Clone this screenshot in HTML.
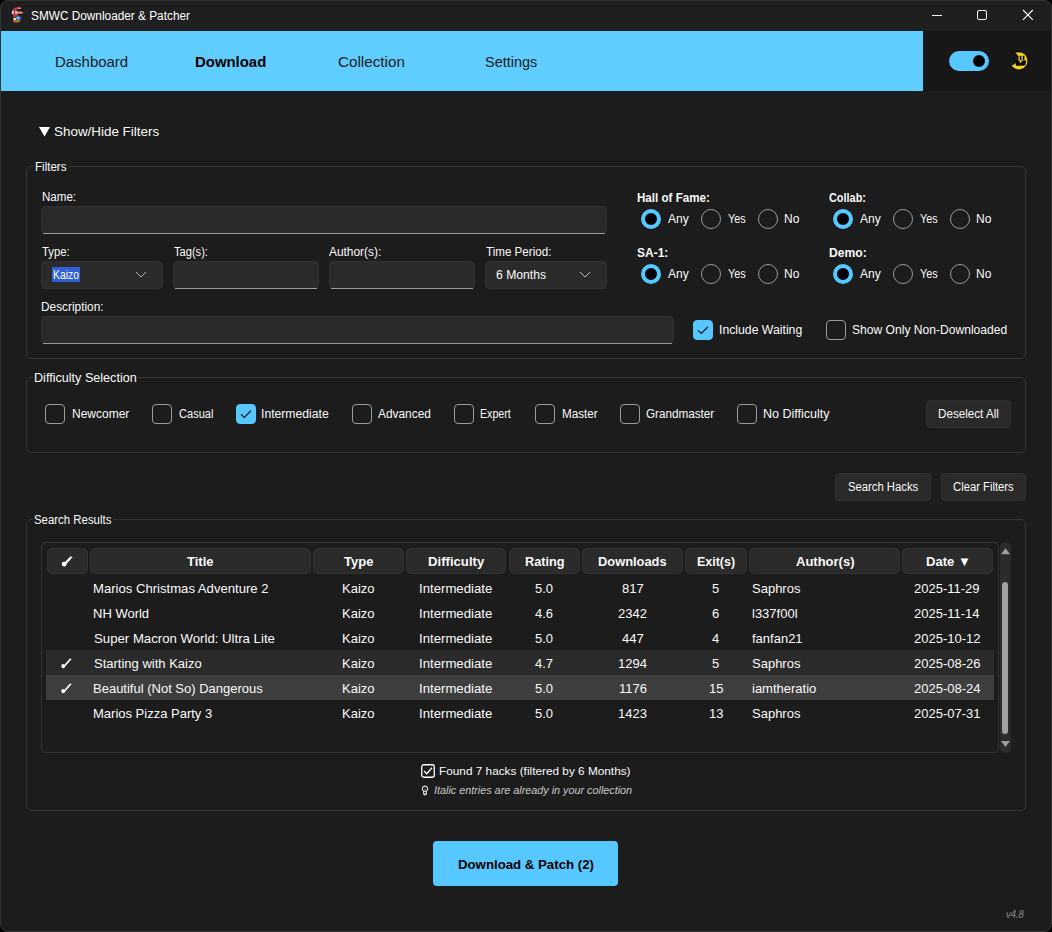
<!DOCTYPE html>
<html><head><meta charset="utf-8"><title>SMWC Downloader &amp; Patcher</title>
<style>*{box-sizing:border-box;margin:0;padding:0}
html,body{width:1052px;height:932px;overflow:hidden;background:#000}
body{font-family:"Liberation Sans",sans-serif;color:#fafafa;position:relative}
.win{position:absolute;left:0;top:0;width:1052px;height:932px;background:#1c1c1c;border-radius:8px;overflow:hidden}
.frame{position:absolute;left:0;top:0;width:1052px;height:932px;border:1px solid #333;border-radius:8px;pointer-events:none}
.t{position:absolute;white-space:nowrap;line-height:1}
.b{font-weight:bold}
.r{position:absolute}
.title{left:0;top:0;width:1052px;height:30px;background:#1f1f1f}
.nav{left:1px;top:31px;width:922px;height:60px;background:#60cdff}
.navr{left:924px;top:31px;width:127px;height:60px;background:#171717}
.lf{position:absolute;border:1px solid #363636;border-radius:5px}
.lfg{position:absolute;height:3px;background:#1c1c1c}
.ent{position:absolute;background:#2b2b2b;border:1px solid #303030;border-radius:4px}
.ent::after{content:"";position:absolute;left:1px;right:1px;bottom:-1px;height:1px;background:#9a9a9a}
.cmb{position:absolute;background:#2b2b2b;border:1px solid #303030;border-radius:4px}
.rad{position:absolute;width:20px;height:20px;border-radius:50%;border:1px solid #9b9b9b}
.rad.on{border:4px solid #57c8ff;background:#000}
.cb{position:absolute;width:20px;height:20px;border-radius:4px;border:1px solid #9b9b9b;background:transparent}
.cb.on{background:#57c8ff;border-color:#57c8ff}
.btn{position:absolute;background:#2a2a2a;border:1px solid #303030;border-radius:4px}
.hd{position:absolute;top:548px;height:26px;background:#2b2b2b;border:1px solid #323232;border-radius:5px}
</style></head><body>
<div class="win">
<div class="r title"></div>
<svg class="r" style="left:6px;top:3px" width="24" height="24" viewBox="0 0 24 24">
<path d="M5.6 9.4 Q6.2 4.6 12.6 4 L14.8 4.4 L14.6 6.2 L11 6.6 Q8 7.2 7.2 9.6 Z" fill="#d3306c"/>
<rect x="12.5" y="4.6" width="2.2" height="1.4" fill="#f0a060"/>
<rect x="10.8" y="6.8" width="6.2" height="1.5" fill="#0a0a0a"/>
<rect x="5.8" y="7.8" width="6" height="3.6" rx="1" fill="#e8b0a0"/>
<rect x="8" y="8.2" width="0.8" height="2.8" fill="#402020"/>
<rect x="11.8" y="8.4" width="4.9" height="2.4" rx="0.8" fill="#f08878"/>
<rect x="7" y="11.3" width="5" height="3.1" fill="#b83040"/>
<circle cx="12.6" cy="15.4" r="2.7" fill="#2a5cc0"/>
<circle cx="12" cy="15" r="1.3" fill="#80e0e0"/>
<rect x="7.5" y="15" width="2.5" height="2.8" fill="#f0f0f0"/>
<ellipse cx="10.6" cy="18.1" rx="3.6" ry="1.5" fill="#b07020"/>
</svg>
<div class="t" style="top:10.14px;font-size:12px;left:31px;transform:scaleX(0.985);transform-origin:0 0;color:#fff">SMWC Downloader &amp; Patcher</div>
<div class="r" style="left:932px;top:15px;width:10px;height:1px;background:#fff"></div>
<div class="r" style="left:977px;top:10px;width:10px;height:10px;border:1px solid #fff;border-radius:2px"></div>
<svg class="r" style="left:1022px;top:9px" width="12" height="12" viewBox="0 0 12 12"><path d="M1 1 L10.8 10.8 M10.8 1 L1 10.8" stroke="#fff" stroke-width="1.1"/></svg>
<div class="r nav"></div>
<div class="r navr"></div>
<div class="t" style="top:54.08px;font-size:15.5px;left:55px;transform:scaleX(0.965);transform-origin:0 0;color:#1a1a1a">Dashboard</div>
<div class="t b" style="top:54.08px;font-size:15.5px;left:195px;transform:scaleX(0.962);transform-origin:0 0;color:#000">Download</div>
<div class="t" style="top:54.08px;font-size:15.5px;left:338px;transform:scaleX(0.983);transform-origin:0 0;color:#1a1a1a">Collection</div>
<div class="t" style="top:54.08px;font-size:15.5px;left:485px;transform:scaleX(0.933);transform-origin:0 0;color:#1a1a1a">Settings</div>
<div class="r" style="left:949px;top:51px;width:40px;height:20px;border-radius:10px;background:#57c8ff"></div>
<div class="r" style="left:973px;top:55px;width:12px;height:12px;border-radius:6px;background:#000"></div>
<svg class="r" style="left:1006px;top:48px" width="28" height="26" viewBox="0 0 28 26">
<path d="M8.6 4 L15.4 4 Q21.6 6.6 22 13 Q21.6 19.8 14 22 Q8.4 22.2 5 17.4 L8.6 15.6 L11.8 12.6 L12.2 8.6 Z" fill="#f4d21c" stroke="#000" stroke-width="0.9" stroke-linejoin="round"/>
<rect x="13.8" y="7.8" width="1.6" height="4.2" fill="#000"/>
<rect x="16.8" y="7.8" width="1.6" height="4.2" fill="#000"/>
<path d="M9.4 12.6 L13.6 12.6 L13.6 14.8 L15.6 14.8 L15.6 12.6 L20.2 12.4 L19.2 17.4 L10 17.8 Z" fill="#000"/>
</svg>
<svg class="r" style="left:39px;top:127px" width="11" height="10" viewBox="0 0 11 10"><path d="M0 0 H11 L5.5 9.5 Z" fill="#fff"/></svg>
<div class="t" style="top:125.27px;font-size:13.5px;left:54px;transform:scaleX(0.994);transform-origin:0 0;">Show/Hide Filters</div>
<div class="lf" style="left:26px;top:166px;width:1000px;height:193px"></div>
<div class="lfg" style="left:33px;top:165px;width:35px"></div>
<div class="t" style="top:160.64px;font-size:12px;left:35px;transform:scaleX(0.964);transform-origin:0 0;">Filters</div>
<div class="t" style="top:190.64px;font-size:12px;left:42px;transform:scaleX(0.963);transform-origin:0 0;">Name:</div>
<div class="ent" style="left:41px;top:206px;width:566px;height:28px"></div>
<div class="t" style="top:245.84px;font-size:12px;left:42px;transform:scaleX(0.941);transform-origin:0 0;">Type:</div>
<div class="t" style="top:245.84px;font-size:12px;left:174px;transform:scaleX(0.925);transform-origin:0 0;">Tag(s):</div>
<div class="t" style="top:245.84px;font-size:12px;left:329px;transform:scaleX(0.991);transform-origin:0 0;">Author(s):</div>
<div class="t" style="top:245.84px;font-size:12px;left:486px;transform:scaleX(0.968);transform-origin:0 0;">Time Period:</div>
<div class="cmb" style="left:41px;top:261px;width:122px;height:28px"></div>
<div class="r" style="left:52px;top:267px;width:28px;height:15px;background:#2f60d8"></div>
<div class="t" style="top:268.84px;font-size:12px;left:53px;transform:scaleX(0.863);transform-origin:0 0;color:#fff">Kaizo</div>
<svg class="r" style="left:135px;top:271px" width="12" height="7" viewBox="0 0 12 7"><path d="M1 1 L6 6 L11 1" stroke="#b8b8b8" stroke-width="1" fill="none"/></svg>
<div class="ent" style="left:173px;top:261px;width:146px;height:28px"></div>
<div class="ent" style="left:329px;top:261px;width:146px;height:28px"></div>
<div class="cmb" style="left:485px;top:261px;width:122px;height:28px"></div>
<div class="t" style="top:268.84px;font-size:12px;left:496px;transform:scaleX(1.013);transform-origin:0 0;">6 Months</div>
<svg class="r" style="left:579px;top:271px" width="12" height="7" viewBox="0 0 12 7"><path d="M1 1 L6 6 L11 1" stroke="#b8b8b8" stroke-width="1" fill="none"/></svg>
<div class="t b" style="top:191.84px;font-size:12px;left:637px;transform:scaleX(0.966);transform-origin:0 0;">Hall of Fame:</div>
<div class="rad on" style="left:641px;top:209px"></div>
<div class="t" style="top:212.64px;font-size:12px;left:668px;">Any</div>
<div class="rad" style="left:701px;top:209px"></div>
<div class="t" style="top:212.64px;font-size:12px;left:728px;transform:scaleX(0.909);transform-origin:0 0;">Yes</div>
<div class="rad" style="left:758px;top:209px"></div>
<div class="t" style="top:212.64px;font-size:12px;left:784px;">No</div>
<div class="t b" style="top:191.84px;font-size:12px;left:829px;transform:scaleX(0.908);transform-origin:0 0;">Collab:</div>
<div class="rad on" style="left:833px;top:209px"></div>
<div class="t" style="top:212.64px;font-size:12px;left:860px;">Any</div>
<div class="rad" style="left:893px;top:209px"></div>
<div class="t" style="top:212.64px;font-size:12px;left:920px;transform:scaleX(0.909);transform-origin:0 0;">Yes</div>
<div class="rad" style="left:950px;top:209px"></div>
<div class="t" style="top:212.64px;font-size:12px;left:976px;">No</div>
<div class="t b" style="top:246.84px;font-size:12px;left:637px;">SA-1:</div>
<div class="rad on" style="left:641px;top:264px"></div>
<div class="t" style="top:267.64px;font-size:12px;left:668px;">Any</div>
<div class="rad" style="left:701px;top:264px"></div>
<div class="t" style="top:267.64px;font-size:12px;left:728px;transform:scaleX(0.909);transform-origin:0 0;">Yes</div>
<div class="rad" style="left:758px;top:264px"></div>
<div class="t" style="top:267.64px;font-size:12px;left:784px;">No</div>
<div class="t b" style="top:246.84px;font-size:12px;left:829px;transform:scaleX(1.010);transform-origin:0 0;">Demo:</div>
<div class="rad on" style="left:833px;top:264px"></div>
<div class="t" style="top:267.64px;font-size:12px;left:860px;">Any</div>
<div class="rad" style="left:893px;top:264px"></div>
<div class="t" style="top:267.64px;font-size:12px;left:920px;transform:scaleX(0.909);transform-origin:0 0;">Yes</div>
<div class="rad" style="left:950px;top:264px"></div>
<div class="t" style="top:267.64px;font-size:12px;left:976px;">No</div>
<div class="t" style="top:300.54px;font-size:12px;left:41px;transform:scaleX(0.987);transform-origin:0 0;">Description:</div>
<div class="ent" style="left:41px;top:316px;width:633px;height:28px"></div>
<div class="cb on" style="left:693px;top:320px"></div>
<svg class="r" style="left:693px;top:320px" width="20" height="20" viewBox="0 0 20 20"><path d="M5 10.2 L8.4 13.4 L15 6.8" stroke="#1c1c1c" stroke-width="1.3" fill="none"/></svg>
<div class="t" style="top:323.84px;font-size:12px;left:719px;transform:scaleX(1.020);transform-origin:0 0;">Include Waiting</div>
<div class="cb" style="left:826px;top:320px"></div>
<div class="t" style="top:323.84px;font-size:12px;left:852px;transform:scaleX(1.007);transform-origin:0 0;">Show Only Non-Downloaded</div>
<div class="lf" style="left:26px;top:377px;width:1000px;height:76px"></div>
<div class="lfg" style="left:33px;top:376px;width:105px"></div>
<div class="t" style="top:372.34px;font-size:12px;left:34px;transform:scaleX(1.050);transform-origin:0 0;">Difficulty Selection</div>
<div class="cb" style="left:45px;top:404px"></div>
<div class="t" style="top:407.94px;font-size:12px;left:72px;">Newcomer</div>
<div class="cb" style="left:152px;top:404px"></div>
<div class="t" style="top:407.94px;font-size:12px;left:179px;transform:scaleX(0.921);transform-origin:0 0;">Casual</div>
<div class="cb on" style="left:236px;top:404px"></div>
<svg class="r" style="left:236px;top:404px" width="20" height="20" viewBox="0 0 20 20"><path d="M5 10.2 L8.4 13.4 L15 6.8" stroke="#1c1c1c" stroke-width="1.3" fill="none"/></svg>
<div class="t" style="top:407.94px;font-size:12px;left:261px;transform:scaleX(1.015);transform-origin:0 0;">Intermediate</div>
<div class="cb" style="left:352px;top:404px"></div>
<div class="t" style="top:407.94px;font-size:12px;left:378px;transform:scaleX(0.991);transform-origin:0 0;">Advanced</div>
<div class="cb" style="left:454px;top:404px"></div>
<div class="t" style="top:407.94px;font-size:12px;left:480px;transform:scaleX(0.885);transform-origin:0 0;">Expert</div>
<div class="cb" style="left:535px;top:404px"></div>
<div class="t" style="top:407.94px;font-size:12px;left:562px;transform:scaleX(0.971);transform-origin:0 0;">Master</div>
<div class="cb" style="left:620px;top:404px"></div>
<div class="t" style="top:407.94px;font-size:12px;left:646px;transform:scaleX(0.974);transform-origin:0 0;">Grandmaster</div>
<div class="cb" style="left:737px;top:404px"></div>
<div class="t" style="top:407.94px;font-size:12px;left:763px;transform:scaleX(1.044);transform-origin:0 0;">No Difficulty</div>
<div class="btn" style="left:926px;top:400px;width:85px;height:28px"></div>
<div class="t" style="top:407.84px;font-size:12px;left:938px;transform:scaleX(0.970);transform-origin:0 0;">Deselect All</div>
<div class="btn" style="left:835px;top:473px;width:96px;height:28px"></div>
<div class="t" style="top:480.84px;font-size:12px;left:848px;transform:scaleX(0.940);transform-origin:0 0;">Search Hacks</div>
<div class="btn" style="left:941px;top:473px;width:85px;height:28px"></div>
<div class="t" style="top:480.84px;font-size:12px;left:953px;transform:scaleX(0.939);transform-origin:0 0;">Clear Filters</div>
<div class="lf" style="left:26px;top:519px;width:1000px;height:292px"></div>
<div class="lfg" style="left:33px;top:518px;width:80px"></div>
<div class="t" style="top:513.84px;font-size:12px;left:34px;transform:scaleX(0.951);transform-origin:0 0;">Search Results</div>
<div class="lf" style="left:41px;top:542px;width:958px;height:211px;border-color:#333"></div>
<div class="hd" style="left:47px;width:41px"></div>
<div class="hd" style="left:90px;width:221px"></div>
<div class="t b" style="top:554.80px;font-size:13px;left:187px;">Title</div>
<div class="hd" style="left:313px;width:91px"></div>
<div class="t b" style="top:554.80px;font-size:13px;left:344px;">Type</div>
<div class="hd" style="left:406px;width:100px"></div>
<div class="t b" style="top:554.80px;font-size:13px;left:428px;transform:scaleX(1.011);transform-origin:0 0;">Difficulty</div>
<div class="hd" style="left:509px;width:71px"></div>
<div class="t b" style="top:554.80px;font-size:13px;left:525px;transform:scaleX(0.978);transform-origin:0 0;">Rating</div>
<div class="hd" style="left:582px;width:101px"></div>
<div class="t b" style="top:554.80px;font-size:13px;left:598px;transform:scaleX(0.990);transform-origin:0 0;">Downloads</div>
<div class="hd" style="left:685px;width:62px"></div>
<div class="t b" style="top:554.80px;font-size:13px;left:697px;transform:scaleX(0.959);transform-origin:0 0;">Exit(s)</div>
<div class="hd" style="left:749px;width:151px"></div>
<div class="t b" style="top:554.80px;font-size:13px;left:796px;">Author(s)</div>
<div class="hd" style="left:902px;width:91px"></div>
<div class="t b" style="top:554.80px;font-size:13px;left:926px;transform:scaleX(1.005);transform-origin:0 0;">Date ▼</div>
<svg class="r" style="left:61px;top:556px" width="12" height="11" viewBox="0 0 12 11"><rect x="0.9" y="5.8" width="4.6" height="4.6" rx="1.8" fill="#fff"/><path d="M3.8 8 L9.4 2" stroke="#fff" stroke-width="2.5" fill="none"/><path d="M9 1.5 L11.2 1.2" stroke="#fff" stroke-width="1.5" fill="none"/></svg>
<div class="r" style="left:46px;top:650px;width:948px;height:25px;background:#2a2a2a"></div>
<div class="r" style="left:46px;top:675px;width:948px;height:25px;background:#3e3e3e"></div>
<div class="t" style="top:582.00px;font-size:13px;left:93px;transform:scaleX(1.008);transform-origin:0 0;">Marios Christmas Adventure 2</div>
<div class="t" style="top:582.00px;font-size:13px;left:342px;">Kaizo</div>
<div class="t" style="top:582.00px;font-size:13px;left:419px;transform:scaleX(1.014);transform-origin:0 0;">Intermediate</div>
<div class="t" style="top:582.00px;font-size:13px;left:535px;">5.0</div>
<div class="t" style="top:582.00px;font-size:13px;left:622px;">817</div>
<div class="t" style="top:582.00px;font-size:13px;left:712px;">5</div>
<div class="t" style="top:582.00px;font-size:13px;left:752px;">Saphros</div>
<div class="t" style="top:582.00px;font-size:13px;left:914px;">2025-11-29</div>
<div class="t" style="top:607.00px;font-size:13px;left:93px;">NH World</div>
<div class="t" style="top:607.00px;font-size:13px;left:342px;">Kaizo</div>
<div class="t" style="top:607.00px;font-size:13px;left:419px;transform:scaleX(1.014);transform-origin:0 0;">Intermediate</div>
<div class="t" style="top:607.00px;font-size:13px;left:535px;">4.6</div>
<div class="t" style="top:607.00px;font-size:13px;left:618px;">2342</div>
<div class="t" style="top:607.00px;font-size:13px;left:712px;">6</div>
<div class="t" style="top:607.00px;font-size:13px;left:752px;">l337f00l</div>
<div class="t" style="top:607.00px;font-size:13px;left:914px;">2025-11-14</div>
<div class="t" style="top:632.00px;font-size:13px;left:94px;transform:scaleX(1.015);transform-origin:0 0;">Super Macron World: Ultra Lite</div>
<div class="t" style="top:632.00px;font-size:13px;left:342px;">Kaizo</div>
<div class="t" style="top:632.00px;font-size:13px;left:419px;transform:scaleX(1.014);transform-origin:0 0;">Intermediate</div>
<div class="t" style="top:632.00px;font-size:13px;left:535px;">5.0</div>
<div class="t" style="top:632.00px;font-size:13px;left:622px;">447</div>
<div class="t" style="top:632.00px;font-size:13px;left:712px;">4</div>
<div class="t" style="top:632.00px;font-size:13px;left:752px;">fanfan21</div>
<div class="t" style="top:632.00px;font-size:13px;left:914px;">2025-10-12</div>
<svg class="r" style="left:61px;top:658px" width="11" height="11" viewBox="0 0 11 11"><ellipse cx="2.2" cy="8.1" rx="1.8" ry="2.1" transform="rotate(-20 2.2 8.1)" fill="#fff"/><path d="M2.6 8.9 L8.9 1.9" stroke="#fff" stroke-width="1.6" fill="none"/><path d="M8.3 1.6 L10.3 1.1" stroke="#fff" stroke-width="1.2" fill="none"/></svg>
<div class="t" style="top:657.00px;font-size:13px;left:94px;">Starting with Kaizo</div>
<div class="t" style="top:657.00px;font-size:13px;left:342px;">Kaizo</div>
<div class="t" style="top:657.00px;font-size:13px;left:419px;transform:scaleX(1.014);transform-origin:0 0;">Intermediate</div>
<div class="t" style="top:657.00px;font-size:13px;left:535px;">4.7</div>
<div class="t" style="top:657.00px;font-size:13px;left:618px;">1294</div>
<div class="t" style="top:657.00px;font-size:13px;left:712px;">5</div>
<div class="t" style="top:657.00px;font-size:13px;left:752px;">Saphros</div>
<div class="t" style="top:657.00px;font-size:13px;left:914px;">2025-08-26</div>
<svg class="r" style="left:61px;top:683px" width="11" height="11" viewBox="0 0 11 11"><ellipse cx="2.2" cy="8.1" rx="1.8" ry="2.1" transform="rotate(-20 2.2 8.1)" fill="#fff"/><path d="M2.6 8.9 L8.9 1.9" stroke="#fff" stroke-width="1.6" fill="none"/><path d="M8.3 1.6 L10.3 1.1" stroke="#fff" stroke-width="1.2" fill="none"/></svg>
<div class="t" style="top:682.00px;font-size:13px;left:93px;">Beautiful (Not So) Dangerous</div>
<div class="t" style="top:682.00px;font-size:13px;left:342px;">Kaizo</div>
<div class="t" style="top:682.00px;font-size:13px;left:419px;transform:scaleX(1.014);transform-origin:0 0;">Intermediate</div>
<div class="t" style="top:682.00px;font-size:13px;left:535px;">5.0</div>
<div class="t" style="top:682.00px;font-size:13px;left:619px;">1176</div>
<div class="t" style="top:682.00px;font-size:13px;left:709px;">15</div>
<div class="t" style="top:682.00px;font-size:13px;left:752px;">iamtheratio</div>
<div class="t" style="top:682.00px;font-size:13px;left:914px;">2025-08-24</div>
<div class="t" style="top:707.00px;font-size:13px;left:93px;">Marios Pizza Party 3</div>
<div class="t" style="top:707.00px;font-size:13px;left:342px;">Kaizo</div>
<div class="t" style="top:707.00px;font-size:13px;left:419px;transform:scaleX(1.014);transform-origin:0 0;">Intermediate</div>
<div class="t" style="top:707.00px;font-size:13px;left:535px;">5.0</div>
<div class="t" style="top:707.00px;font-size:13px;left:618px;">1423</div>
<div class="t" style="top:707.00px;font-size:13px;left:709px;">13</div>
<div class="t" style="top:707.00px;font-size:13px;left:752px;">Saphros</div>
<div class="t" style="top:707.00px;font-size:13px;left:914px;">2025-07-31</div>
<div class="r" style="left:1000px;top:542px;width:11px;height:211px;border-radius:6px;background:#2b2b2b"></div>
<svg class="r" style="left:1001px;top:548px" width="9" height="7" viewBox="0 0 9 7"><path d="M0 6.2 L4.5 0.2 L9 6.2 Z" fill="#9e9e9e"/></svg>
<svg class="r" style="left:1001px;top:741px" width="9" height="7" viewBox="0 0 9 7"><path d="M0 0 L4.5 6 L9 0 Z" fill="#9e9e9e"/></svg>
<div class="r" style="left:1002px;top:582px;width:6px;height:152px;border-radius:3px;background:#a0a0a0"></div>
<svg class="r" style="left:421px;top:764px" width="14" height="14" viewBox="0 0 14 14"><rect x="0.75" y="0.75" width="12.5" height="12.5" rx="2" stroke="#fff" stroke-width="1.3" fill="none"/><path d="M3 7 L5.8 9.8 L11 3.8" stroke="#fff" stroke-width="1.3" fill="none"/></svg>
<div class="t" style="top:765.55px;font-size:11.4px;left:439px;transform:scaleX(1.036);transform-origin:0 0;">Found 7 hacks (filtered by 6 Months)</div>
<svg class="r" style="left:421px;top:785px" width="8" height="11" viewBox="0 0 8 11"><circle cx="4" cy="3.8" r="2.7" stroke="#e4e4e4" stroke-width="1.05" fill="none"/><path d="M2.5 6.2 L2.8 9.8 H5.2 L5.5 6.2" stroke="#e4e4e4" stroke-width="1" fill="none"/><rect x="3" y="8.4" width="2" height="1.4" fill="#e4e4e4"/><path d="M4 3.4 V6.6" stroke="#8a8a8a" stroke-width="0.8"/></svg>
<div class="t" style="top:785.93px;font-size:10px;left:434px;transform:scaleX(1.080);transform-origin:0 0;font-style:italic;color:#c8c8c8">Italic entries are already in your collection</div>
<div class="r" style="left:433px;top:841px;width:185px;height:45px;border-radius:4px;background:#57c8ff"></div>
<div class="t b" style="top:858.20px;font-size:13px;left:458px;transform:scaleX(1.017);transform-origin:0 0;color:#000">Download &amp; Patch (2)</div>
<div class="t" style="top:909.11px;font-size:10.5px;left:1006px;transform:scaleX(0.900);transform-origin:0 0;font-style:italic;color:#8a8a8a">v4.8</div>
</div>
<div class="frame"></div>
</body></html>
